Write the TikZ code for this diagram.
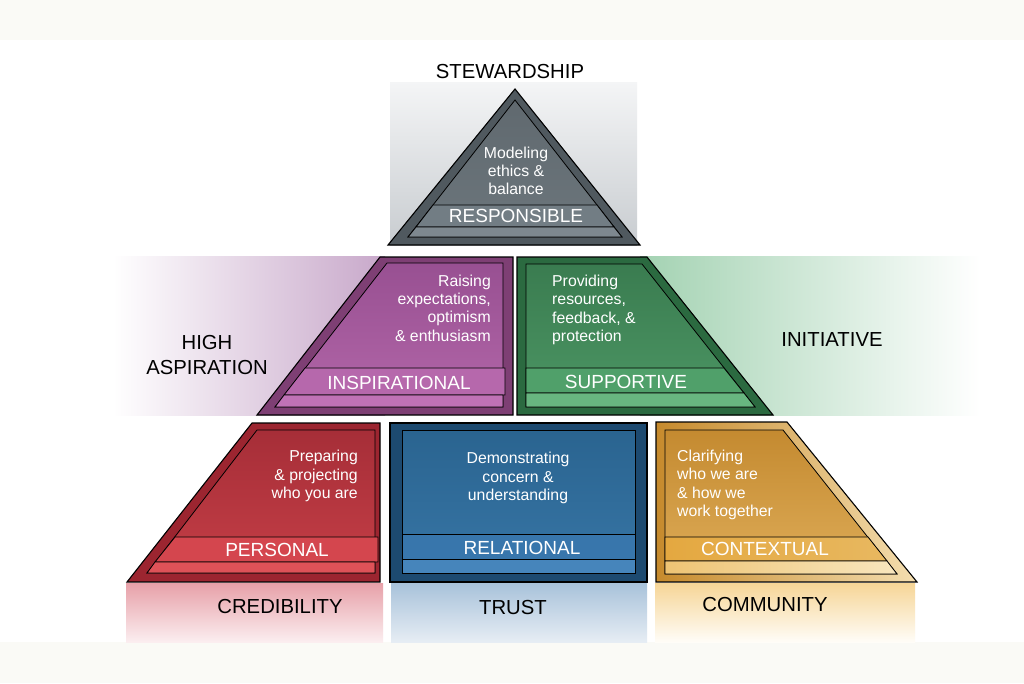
\documentclass[tikz,border=0pt]{standalone}
\usepackage{fontspec}
\setmainfont{Liberation Sans}
\begin{document}
\begin{tikzpicture}[x=1pt,y=-1pt,
  outerS/.style={draw=black, line width=1.1pt, line join=miter},
  innerS/.style={draw=black, line width=0.8pt, line join=miter},
  desc/.style={text=white, inner sep=0pt, font=\fontsize{15.8}{18.3}\selectfont},
  lab/.style={text=white, inner sep=0pt, font=\fontsize{19}{21}\selectfont},
  capt/.style={text=black, inner sep=0pt, font=\fontsize{20.3}{25}\selectfont, align=center}]
\useasboundingbox (0,0) rectangle (1024,683);
\fill[white] (0,0) rectangle (1024,683);
\fill[fill={rgb,255:red,250;green,250;blue,246}] (0,0) rectangle (1024,40);
\fill[fill={rgb,255:red,250;green,250;blue,246}] (0,642) rectangle (1024,683);

% ---- background bands
\shade[top color={rgb,255:red,244;green,245;blue,246}, bottom color={rgb,255:red,200;green,204;blue,208}] (390,82) rectangle (637,245);
\shade[left color=white, right color={rgb,255:red,200;green,168;blue,202}] (113,256) rectangle (385,415);
\shade[left color={rgb,255:red,163;green,210;blue,178}, right color=white] (640,256) rectangle (980,415);
\shade[top color={rgb,255:red,231;green,160;blue,168}, bottom color={rgb,255:red,251;green,238;blue,240}] (126,583) rectangle (383,642);
\shade[top color={rgb,255:red,168;green,194;blue,218}, bottom color={rgb,255:red,230;green,237;blue,244}] (391,583) rectangle (647,642);
\shade[top color={rgb,255:red,246;green,213;blue,150}, bottom color={rgb,255:red,255;green,253;blue,248}] (655,583) rectangle (915,642);

% ---- gray triangle
\fill[outerS, fill={rgb,255:red,80;green,89;blue,95}] (515,89) -- (640,245) -- (388,245) -- cycle;
\shade[innerS, top color={rgb,255:red,96;green,105;blue,111}, bottom color={rgb,255:red,108;green,118;blue,124}] (515,100) -- (622,237) -- (408,237) -- cycle;
\fill[innerS, fill={rgb,255:red,114;green,125;blue,132}] (433,205) -- (597,205) -- (614,227) -- (416,227) -- cycle;
\fill[innerS, fill={rgb,255:red,126;green,136;blue,143}] (416,227) -- (614,227) -- (622,237) -- (408,237) -- cycle;

% ---- purple
\fill[outerS, fill={rgb,255:red,126;green,63;blue,116}] (380,257) -- (513,257) -- (513,415) -- (257,415) -- cycle;
\shade[innerS, top color={rgb,255:red,152;green,80;blue,146}, bottom color={rgb,255:red,178;green,102;blue,168}] (387,263) -- (503,263) -- (503,407) -- (275,407) -- cycle;
\fill[innerS, fill={rgb,255:red,182;green,104;blue,172}] (305,368) -- (505,368) -- (505,395) -- (284,395) -- cycle;
\fill[innerS, fill={rgb,255:red,192;green,114;blue,182}] (284,395) -- (503,395) -- (503,407) -- (275,407) -- cycle;

% ---- green
\fill[outerS, fill={rgb,255:red,43;green,106;blue,64}] (517,257) -- (647,257) -- (773,415) -- (517,415) -- cycle;
\shade[innerS, top color={rgb,255:red,58;green,124;blue,80}, bottom color={rgb,255:red,76;green,150;blue,100}] (526,264) -- (642,264) -- (755,407) -- (526,407) -- cycle;
\fill[innerS, fill={rgb,255:red,80;green,160;blue,106}] (526,368) -- (724,368) -- (744,393) -- (526,393) -- cycle;
\fill[innerS, fill={rgb,255:red,104;green,182;blue,128}] (526,393) -- (744,393) -- (755,407) -- (526,407) -- cycle;

% ---- red
\fill[outerS, fill={rgb,255:red,156;green,37;blue,48}] (252,423) -- (380,423) -- (380,582) -- (127,582) -- cycle;
\shade[innerS, top color={rgb,255:red,166;green,46;blue,56}, bottom color={rgb,255:red,196;green,62;blue,70}] (257,430) -- (375,430) -- (375,573) -- (147,573) -- cycle;
\fill[innerS, fill={rgb,255:red,212;green,70;blue,78}] (175,537) -- (378,537) -- (378,562) -- (155,562) -- cycle;
\fill[innerS, fill={rgb,255:red,222;green,82;blue,88}] (155,562) -- (375,562) -- (375,573) -- (147,573) -- cycle;

% ---- blue
\fill[outerS, fill={rgb,255:red,29;green,74;blue,112}] (390,423) -- (647,423) -- (647,582) -- (390,582) -- cycle;
\shade[innerS, top color={rgb,255:red,42;green,100;blue,144}, bottom color={rgb,255:red,55;green,117;blue,165}] (402,430) -- (635,430) -- (635,573) -- (402,573) -- cycle;
\fill[innerS, fill={rgb,255:red,56;green,118;blue,172}] (402,534) -- (635,534) -- (635,559) -- (402,559) -- cycle;
\fill[innerS, fill={rgb,255:red,70;green,133;blue,187}] (402,559) -- (635,559) -- (635,573) -- (402,573) -- cycle;

% ---- gold
\shade[outerS, left color={rgb,255:red,198;green,138;blue,44}, right color={rgb,255:red,244;green,222;blue,176}] (656,422) -- (787,422) -- (917,582) -- (656,582) -- cycle;
\shade[innerS, top color={rgb,255:red,196;green,138;blue,48}, bottom color={rgb,255:red,222;green,172;blue,88}] (665,430) -- (783,430) -- (897,574) -- (665,574) -- cycle;
\shade[innerS, left color={rgb,255:red,228;green,168;blue,64}, right color={rgb,255:red,232;green,184;blue,96}] (665,537) -- (868,537) -- (887,561) -- (665,561) -- cycle;
\shade[innerS, left color={rgb,255:red,238;green,196;blue,116}, right color={rgb,255:red,248;green,230;blue,190}] (665,561) -- (887,561) -- (897,574) -- (665,574) -- cycle;

% ---- texts
\node[capt] (stew) at (510,72) {STEWARDSHIP};
\node[desc, align=center] (dresp) at (516,171) {Modeling\\ethics \&\\balance};
\node[lab] (resp) at (516,216) {RESPONSIBLE};

\node[desc, align=right, anchor=east] (dinsp) at (491,308) {Raising\\expectations,\\optimism\\\& enthusiasm};
\node[lab] (insp) at (399,383) {INSPIRATIONAL};

\node[desc, align=left, anchor=west] (dsupp) at (552,310) {Providing\\resources,\\feedback, \&\\protection};
\node[lab] (supp) at (626,382) {SUPPORTIVE};

\node[desc, align=right, anchor=east] (dpers) at (358,476) {Preparing\\\& projecting\\who you are};
\node[lab] (pers) at (277,550) {PERSONAL};

\node[desc, align=center] (drel) at (518,478) {Demonstrating\\concern \&\\understanding};
\node[lab] (rel) at (522,548) {RELATIONAL};

\node[desc, align=left, anchor=west] (dcont) at (677,485) {Clarifying\\who we are\\\& how we\\work together};
\node[lab] (cont) at (765,549) {CONTEXTUAL};

\node[capt] (cred) at (280,606) {CREDIBILITY};
\node[capt] (trust) at (513,607) {TRUST};
\node[capt] (comm) at (765,604) {COMMUNITY};
\node[capt] (high) at (207,355) {HIGH\\ASPIRATION};
\node[capt] (init) at (832,340) {INITIATIVE};
\end{tikzpicture}
\end{document}
